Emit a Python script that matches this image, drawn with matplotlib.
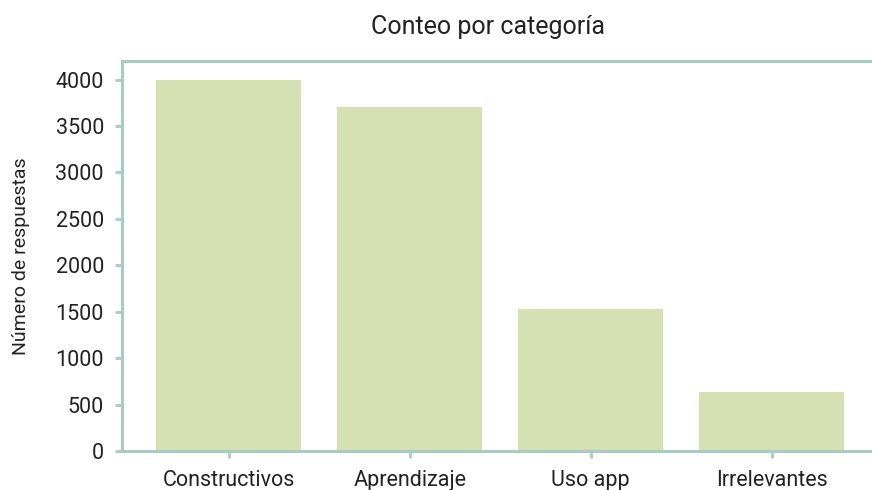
import matplotlib
matplotlib.use("Agg")
import matplotlib.pyplot as plt

categorias = ["Constructivos", "Aprendizaje", "Uso app", "Irrelevantes"]
conteos = [4000, 3710, 1527, 634]

plt.rcParams['font.family'] = ['Roboto', 'DejaVu Sans']

verde = "#d5e0b3"
borde = "#a9cbc0"
texto = "#222222"

fig = plt.figure(figsize=(8.72, 4.90), dpi=100)
# axes runs past the right edge, so no right spine is visible
ax = fig.add_axes([122 / 872, 1 - 451 / 490, 760 / 872, 390 / 490])

ax.bar(range(len(categorias)), conteos, width=0.8, color=verde)

ax.set_xlim(-0.59, 3.61)
ax.set_ylim(0, 4200)
ax.set_xticks(range(len(categorias)))
ax.set_xticklabels(categorias)
ax.set_yticks(range(0, 4001, 500))

for lado in ["left", "bottom", "top"]:
    ax.spines[lado].set_color(borde)
    ax.spines[lado].set_linewidth(2.2)
ax.spines["right"].set_visible(False)

ax.tick_params(axis="both", colors=borde, width=2, length=5, labelcolor=texto, labelsize=15.5)
ax.tick_params(axis="x", pad=9)
ax.tick_params(axis="y", pad=8)

ax.set_ylabel("Número de respuestas", fontsize=14, color=texto, labelpad=18)
fig.text(488 / 872, 1 - 27 / 490, "Conteo por categoría", ha="center", va="center",
         fontsize=18, color=texto)

fig.savefig("out.png", dpi=100)
